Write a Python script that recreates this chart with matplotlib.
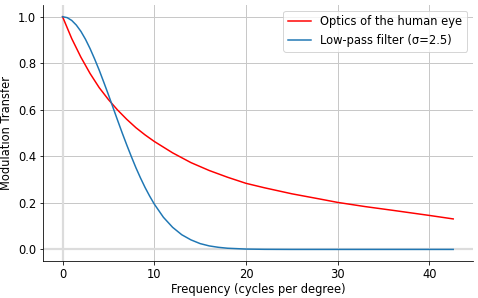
import matplotlib
matplotlib.use("Agg")
import matplotlib.pyplot as plt

# Values
freq_eye = [0, 1, 2, 3, 4, 5, 6, 7, 8, 9, 10, 12, 14, 16, 18, 20, 22, 25, 28, 30, 33, 36, 40, 42.6]
mtf_eye = [1.000, 0.906, 0.826, 0.756, 0.695, 0.644, 0.599, 0.559, 0.523, 0.492, 0.464,
           0.415, 0.373, 0.339, 0.310, 0.284, 0.265, 0.239, 0.217, 0.202, 0.184, 0.168, 0.146, 0.131]

freq_lp = [0, 0.5, 1, 1.5, 2, 2.5, 3, 3.5, 4, 4.5, 5, 5.5, 6, 6.5, 7, 7.5, 8, 8.5, 9, 9.5, 10,
           11, 12, 13, 14, 15, 16, 17, 18, 20, 22, 25, 30, 35, 40, 42.6]
mtf_lp = [1.000, 0.996, 0.984, 0.964, 0.937, 0.903, 0.863, 0.818, 0.770, 0.718, 0.665, 0.610,
          0.555, 0.501, 0.449, 0.399, 0.351, 0.307, 0.266, 0.229, 0.195,
          0.138, 0.095, 0.063, 0.041, 0.025, 0.015, 0.009, 0.005, 0.0015, 0.0004, 0.0, 0.0, 0.0, 0.0, 0.0]

labels = ["Optics of the human eye", "Low-pass filter (σ=2.5)"]

fs = 11.5
fig = plt.figure(figsize=(478 / 72, 298 / 72), dpi=72)
ax = fig.add_axes([0.090, 0.124, 0.899, 0.859])

ax.axhline(0, color="#dcdcdc", lw=2.2, zorder=1)
ax.axvline(0, color="#dcdcdc", lw=2.2, zorder=1)
ax.plot(freq_eye, mtf_eye, color="red", lw=1.5, label=labels[0], zorder=3)
ax.plot(freq_lp, mtf_lp, color="#1f77b4", lw=1.5, label=labels[1], zorder=3)

ax.grid(True, color="#c8c8c8", lw=1)
ax.set_axisbelow(True)
ax.spines["top"].set_visible(False)
ax.spines["right"].set_visible(False)
ax.set_xlabel("Frequency (cycles per degree)", fontsize=fs, labelpad=2)
ax.set_ylabel("Modulation Transfer", fontsize=fs, labelpad=5)
ax.tick_params(labelsize=fs)
ax.legend(loc="upper right", fontsize=fs)

fig.savefig("out.png", dpi=72)
